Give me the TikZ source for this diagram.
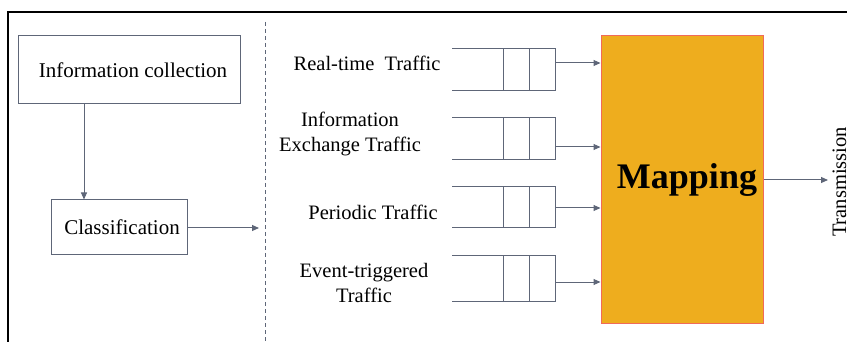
\documentclass[tikz,border=0pt]{standalone}
\usepackage{fontspec}
\setmainfont{LiberationSerif-Regular.ttf}[BoldFont=LiberationSerif-Bold.ttf]
\usetikzlibrary{arrows.meta}
\definecolor{lc}{HTML}{5E6678}
\definecolor{mapfill}{HTML}{EEAD1E}
\definecolor{mapdraw}{HTML}{F06A5A}
\tikzset{
  x=1pt,y=-1pt,
  conn/.style={draw=lc,line width=1pt,-{Triangle[length=7pt,width=6pt]}},
  boxnode/.style={draw=lc,line width=1pt,inner sep=0pt,font=\fontsize{21}{25}\selectfont},
  lbl/.style={inner sep=0pt,align=center,font=\fontsize{20.5}{25}\selectfont},
  queue/.style={draw=lc,line width=1pt}
}
\begin{document}
\begin{tikzpicture}
\useasboundingbox (0,0) rectangle (847,342);
% frame
\draw[line width=2pt,black] (8,342) -- (8,12) -- (847,12);
% left part
\node[boxnode,minimum width=222pt,minimum height=68pt] (info) at (129,70) {\hspace*{8pt}Information collection};
\node[boxnode,minimum width=136pt,minimum height=55pt] (cls) at (119,227.5) {\hspace*{6pt}Classification};
\coordinate (infoout) at (84,104);
\draw[conn] (infoout) -- (infoout |- cls.north);
\coordinate (clsend) at (259,228);
\draw[conn] (cls.east |- clsend) -- (clsend);
% dashed divider
\draw[lc,line width=0.8pt,dash pattern=on 4pt off 3pt] (265,22) -- (265,342);
% labels
\node[lbl] (l1) at (367,63) {Real-time\hspace{5pt} Traffic};
\node[lbl] (l2) at (350,133.5) {Information\\Exchange Traffic};
\node[lbl] (l3) at (373,212) {Periodic Traffic};
\node[lbl] (l4) at (364,282.5) {Event-triggered\\Traffic};
% queues
\foreach \t/\b in {49/91,118/160,187/228,256/301}{
  \draw[queue] (452,\t) -- (555,\t) -- (555,\b) -- (452,\b);
  \draw[queue] (503,\t) -- (503,\b);
  \draw[queue] (529,\t) -- (529,\b);
}
% mapping
\node[draw=mapdraw,fill=mapfill,line width=1pt,minimum width=162pt,minimum height=287pt,inner sep=0pt,font=\fontsize{36}{40}\selectfont\bfseries] (map) at (682,179.5) {\hspace*{10pt}Mapping};
\coordinate (q1) at (555,63);
\coordinate (q2) at (555,147);
\coordinate (q3) at (555,208);
\coordinate (q4) at (555,282);
\foreach \q in {q1,q2,q3,q4}{
  \draw[conn] (\q) -- (\q -| map.west);
}
\coordinate (tx) at (828,180);
\draw[conn] (map.east |- tx) -- (tx);
\node[lbl,rotate=90,anchor=base] (trans) at (846,182) {Transmission};
\end{tikzpicture}
\end{document}
